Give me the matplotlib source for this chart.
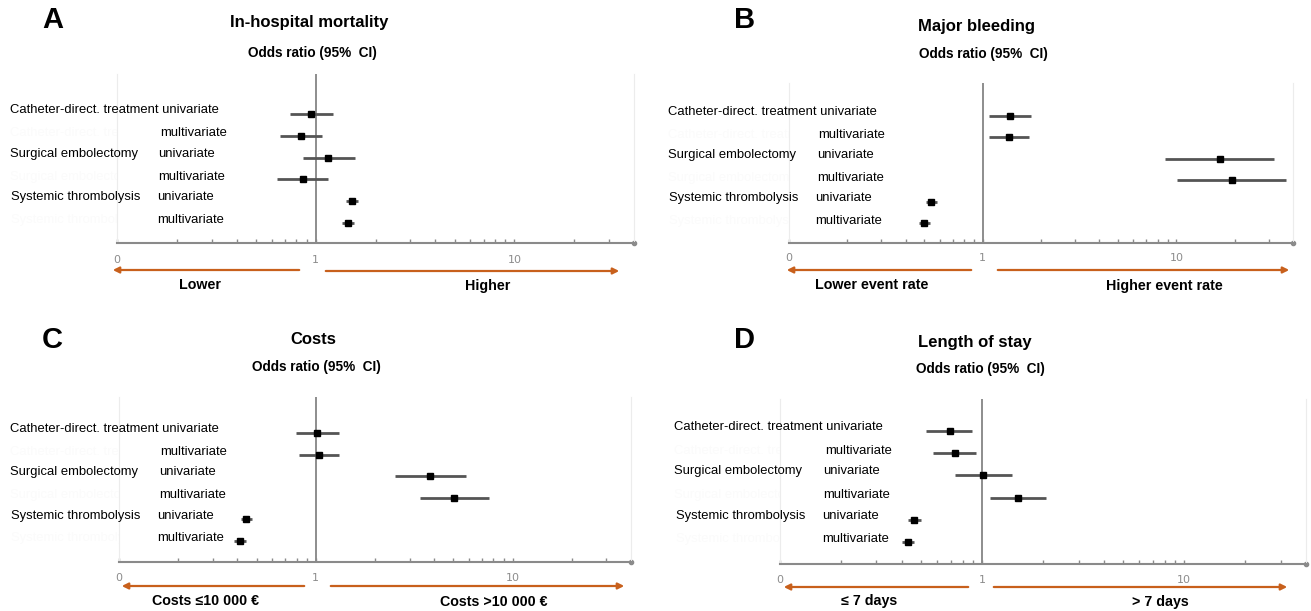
import matplotlib
matplotlib.use("Agg")
import matplotlib.pyplot as plt
import matplotlib.transforms as mtransforms
from matplotlib.patches import FancyArrowPatch
from matplotlib.ticker import FixedLocator, FixedFormatter

plt.rcParams['font.family'] = ['Liberation Sans', 'DejaVu Sans']

# row order: catheter uni, catheter multi, surgical uni, surgical multi, systemic uni, systemic multi
groups = ["Catheter-direct. treatment", "Surgical embolectomy", "Systemic thrombolysis"]
models = ["univariate", "multivariate"]

mort_or = [0.95, 0.84, 1.16, 0.86, 1.52, 1.45]
mort_lo = [0.74, 0.66, 0.86, 0.64, 1.42, 1.35]
mort_hi = [1.22, 1.07, 1.58, 1.15, 1.63, 1.55]

bleed_or = [1.38, 1.37, 16.7, 19.3, 0.54, 0.50]
bleed_lo = [1.08, 1.08, 8.7, 10.1, 0.51, 0.47]
bleed_hi = [1.78, 1.74, 31.9, 36.7, 0.58, 0.535]

cost_or = [1.02, 1.04, 3.81, 5.07, 0.44, 0.41]
cost_lo = [0.79, 0.82, 2.54, 3.40, 0.415, 0.385]
cost_hi = [1.32, 1.32, 5.82, 7.55, 0.476, 0.442]

los_or = [0.69, 0.73, 1.01, 1.50, 0.46, 0.43]
los_lo = [0.53, 0.57, 0.73, 1.09, 0.43, 0.40]
los_hi = [0.89, 0.93, 1.41, 2.06, 0.50, 0.46]

tick_vals = [0.1, 1, 10]
tick_text = ["0", "1", "10"]
minor_vals = [0.2, 0.3, 0.4, 0.5, 0.6, 0.7, 0.8, 0.9,
              2, 3, 4, 5, 6, 7, 8, 9, 20, 30]

W, H = 1311, 611
ORANGE = '#c8601c'
LABEL_SIZE = 9.4


def fx(px):
    return px / W


def fy(py):
    return 1 - py / H


def forest_panel(fig, rect, ylim, odds, lo, hi, letter, title, letter_xy, title_xy,
                 sub_xy, tick_y, group_x, model_x, arrows, side_labels):
    """Draw one forest plot panel; all positions are in pixels of the figure"""
    left, top, right, bottom = rect
    ax = fig.add_axes([fx(left), fy(bottom), fx(right - left), (bottom - top) / H])
    ax.set_xscale('log')
    ax.set_xlim(0.1, 40)
    ax.set_ylim(*ylim)

    ypos = [5, 4, 3, 2, 1, 0]
    ax.axvline(1, color='#7a7a7a', lw=1.2, zorder=1)
    for y, o, l, h in zip(ypos, odds, lo, hi):
        ax.plot([l, h], [y, y], color='#555555', lw=2, solid_capstyle='butt', zorder=2)
        ax.plot(o, y, 's', color='black', ms=5, zorder=3)

    ax.spines['top'].set_visible(False)
    for s in ['left', 'right']:
        ax.spines[s].set_color('#ececec')
        ax.spines[s].set_linewidth(0.8)
    ax.spines['bottom'].set_color('#8a8a8a')
    ax.spines['bottom'].set_linewidth(1.5)
    ax.plot(40, ylim[0], 'o', color='#8a8a8a', ms=3, clip_on=False)

    ax.set_yticks([])
    ax.xaxis.set_major_locator(FixedLocator(tick_vals))
    ax.xaxis.set_major_formatter(FixedFormatter(["", "", ""]))
    ax.xaxis.set_minor_locator(FixedLocator(minor_vals))
    ax.xaxis.set_minor_formatter(FixedFormatter([""] * len(minor_vals)))
    ax.tick_params(axis='x', which='both', direction='in', length=3,
                   color='#8a8a8a', width=1)

    # tick labels drawn under the axis like the original
    trans_x = mtransforms.blended_transform_factory(ax.transData, fig.transFigure)
    for v, t in zip(tick_vals, tick_text):
        ax.text(v, fy(tick_y), t, transform=trans_x, ha='center', va='center',
                fontsize=8, color='#8c8c8c', family='DejaVu Sans')

    # row labels
    trans_lab = mtransforms.blended_transform_factory(fig.transFigure, ax.transData)
    ghost_box = mtransforms.TransformedBbox(
        mtransforms.Bbox([[0, 0], [fx(left), 1]]), fig.transFigure)
    for i, g in enumerate(groups):
        yu, ym = ypos[2 * i], ypos[2 * i + 1]
        if i == 0:
            ax.text(fx(group_x[i]), yu + 0.18, g + " " + models[0],
                    transform=trans_lab, ha='left', va='center', fontsize=LABEL_SIZE)
        else:
            ax.text(fx(group_x[i]), yu + 0.18, g, transform=trans_lab,
                    ha='left', va='center', fontsize=LABEL_SIZE)
            ax.text(fx(model_x[2 * i]), yu + 0.18, models[0], transform=trans_lab,
                    ha='left', va='center', fontsize=LABEL_SIZE)
        # barely visible leftover group text behind the multivariate rows
        ghost = ax.text(fx(group_x[i]), ym + 0.12, g, transform=trans_lab,
                        ha='left', va='center', fontsize=LABEL_SIZE, color='#fbfbfb',
                        zorder=0)
        ghost.set_clip_on(True)
        ghost.set_clip_box(ghost_box)
        ax.text(fx(model_x[2 * i + 1]), ym + 0.12, models[1], transform=trans_lab,
                ha='left', va='center', fontsize=LABEL_SIZE)

    fig.text(fx(letter_xy[0]), fy(letter_xy[1]), letter, fontsize=21,
             fontweight='bold', ha='center', va='center')
    fig.text(fx(title_xy[0]), fy(title_xy[1]), title, fontsize=12,
             fontweight='bold', ha='center', va='center')
    fig.text(fx(sub_xy[0]), fy(sub_xy[1]), "Odds ratio (95%  CI)", fontsize=9.8,
             fontweight='bold', ha='center', va='center')

    for (x0, x1, y) in arrows:
        arr = FancyArrowPatch((fx(x0), fy(y)), (fx(x1), fy(y)),
                              transform=fig.transFigure, arrowstyle='-|>',
                              mutation_scale=9, color=ORANGE, lw=1.6)
        fig.add_artist(arr)
    for (x, y, t) in side_labels:
        fig.text(fx(x), fy(y), t, fontsize=10.3, fontweight='bold',
                 ha='center', va='center')
    return ax


def main():
    fig = plt.figure(figsize=(13.11, 6.11), dpi=100)

    forest_panel(fig, (117, 74, 634, 243), (-0.92, 6.83), mort_or, mort_lo, mort_hi,
                 "A", "In-hospital mortality", (53, 20), (309, 22), (312, 53), 260,
                 [10, 10, 11], [0, 160, 158, 158, 157, 157],
                 [(302, 110, 270), (323, 622, 271)],
                 [(200, 285, "Lower"), (488, 286, "Higher")])

    forest_panel(fig, (789, 83, 1293, 243), (-0.93, 6.54), bleed_or, bleed_lo, bleed_hi,
                 "B", "Major bleeding", (745, 20), (977, 27), (983, 54), 258,
                 [668, 668, 669], [0, 818, 817, 817, 815, 815],
                 [(974, 784, 270), (995, 1292, 270)],
                 [(872, 285, "Lower event rate"), (1164, 286, "Higher event rate")])

    forest_panel(fig, (119, 397, 631, 562), (-0.97, 6.67), cost_or, cost_lo, cost_hi,
                 "C", "Costs", (52, 340), (313, 340), (316, 367), 578,
                 [10, 10, 11], [0, 160, 159, 159, 157, 157],
                 [(307, 119, 586), (328, 627, 586)],
                 [(206, 601, "Costs \u226410 000 \u20ac"), (494, 602, "Costs >10 000 \u20ac")])

    forest_panel(fig, (780, 399, 1306, 564), (-0.99, 6.44), los_or, los_lo, los_hi,
                 "D", "Length of stay", (745, 340), (975, 342), (980, 369), 580,
                 [674, 674, 676], [0, 825, 823, 823, 822, 822],
                 [(971, 781, 587), (991, 1290, 587)],
                 [(869, 601, "\u2264 7 days"), (1160, 602, "> 7 days")])

    fig.savefig("out.png", dpi=100)


if __name__ == "__main__":
    main()
